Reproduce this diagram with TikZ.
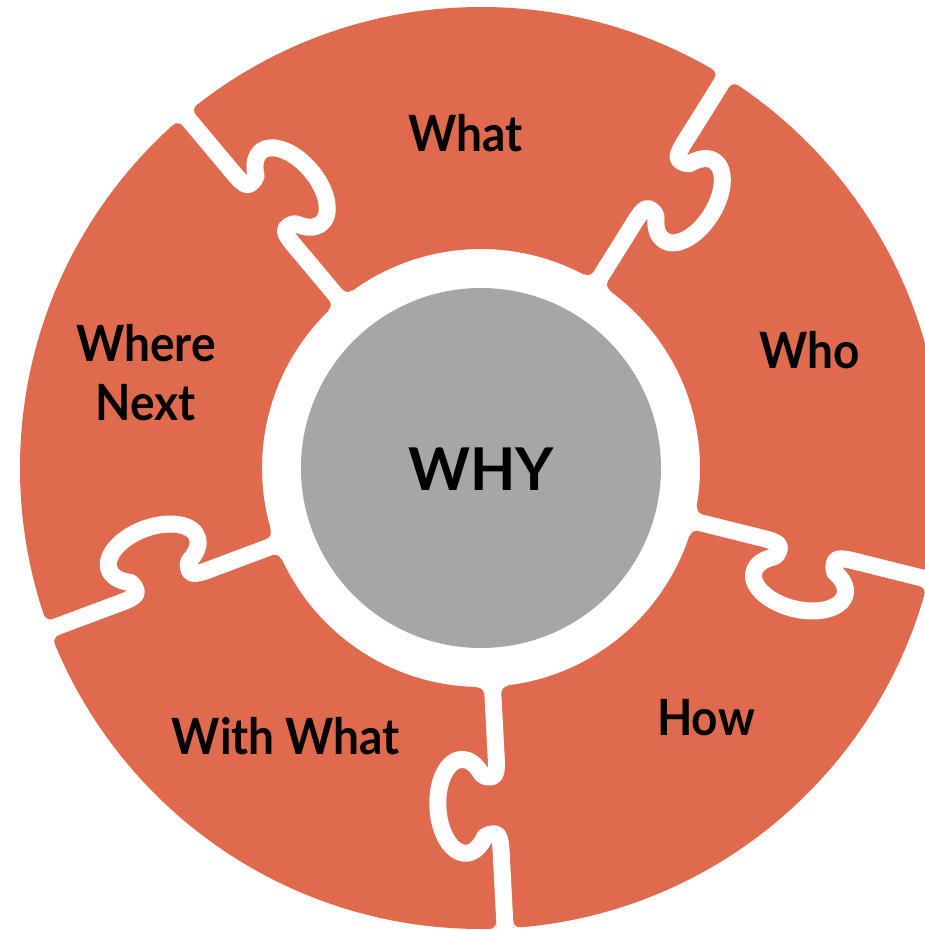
\documentclass[tikz,border=0pt]{standalone}
\usepackage{fontspec}
\setmainfont{Lato}
\newfontfamily\piecefont{Lato}[FakeStretch=0.92]
\definecolor{puzzle}{RGB}{224,106,78}
\definecolor{hub}{RGB}{166,166,166}
\tikzset{
  seamline/.style={draw=white, line width=17pt, line cap=butt, line join=round},
  fillet/.style={fill=white},
  lbl/.style={font=\piecefont\fontsize{50}{59}\selectfont\bfseries, text=black, align=center, inner sep=0pt},
  hublbl/.style={font=\fontsize{59}{60}\selectfont\bfseries, text=black, inner sep=0pt},
}
% one seam with its knob, rotated to angle #1 (knob on the clockwise side)
\newcommand\puzzleseam[1]{%
  \begin{scope}[rotate=#1]
    \draw[seamline] (200,0) -- (279,0)
      .. controls (295,0) and (309,1) .. (309,-6)
      .. controls (309,-10) and (308.5,-13) .. (305.5,-15.5)
      arc[start angle=132, end angle=408, x radius=47, y radius=26]
      .. controls (366.5,-13) and (366,-10) .. (366,-6)
      .. controls (366,1) and (380,0) .. (396,0) -- (480,0);
    % rounded corners where the seam meets the outer rim
    \fill[fillet] (464,8.5) -- (454,8.5) arc[start angle=-90, end angle=0, radius=7] -- (464,15.5) -- cycle;
    \fill[fillet] (464,-8.5) -- (454,-8.5) arc[start angle=90, end angle=0, radius=7] -- (464,-15.5) -- cycle;
    % rounded corners where the seam meets the inner rim
    \fill[fillet] (216,8.5) -- (226,8.5) arc[start angle=-90, end angle=-180, radius=7] -- (216,15.5) -- cycle;
    \fill[fillet] (216,-8.5) -- (226,-8.5) arc[start angle=90, end angle=180, radius=7] -- (216,-15.5) -- cycle;
  \end{scope}}

\begin{document}
\begin{tikzpicture}[x=1pt, y=1pt]
  \useasboundingbox (-481,-462) rectangle (444,468);
  \clip (-481,-462) rectangle (444,468);
  % ring
  \fill[puzzle, even odd rule] (0,0) circle[radius=461] (0,0) circle[radius=219];
  % seams with knobs
  \puzzleseam{130}
  \puzzleseam{58}
  \puzzleseam{-14}
  \puzzleseam{-87}
  \puzzleseam{-159.5}
  % hub
  \fill[hub] (0,0) circle[radius=180];
  % labels
  \node[lbl] (what) at (-15,335) {What};
  \node[lbl] (who) at (329,118) {Who};
  \node[lbl] (wherenext) at (-335,95) {Where\\Next};
  \node[lbl] (how) at (225,-250) {How};
  \node[lbl] (withwhat) at (-195,-268) {With What};
  \node[hublbl] (why) at (0,-1) {WHY};
\end{tikzpicture}
\end{document}
